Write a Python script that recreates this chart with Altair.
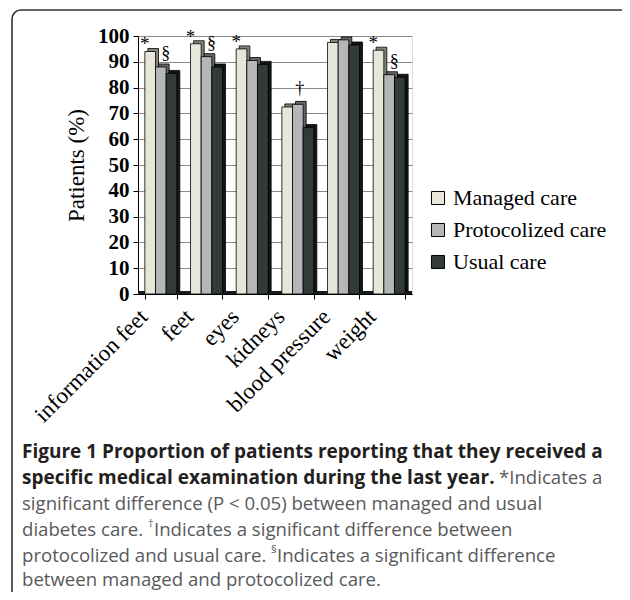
import altair as alt
import pandas as pd

# ---------------- data ----------------
categories = ["information feet", "feet", "eyes", "kidneys", "blood pressure", "weight"]
series = ["Managed care", "Protocolized care", "Usual care"]
managed = [94, 97, 95, 72.5, 97.5, 94.5]
protocolized = [88, 92, 90.5, 73.5, 98.5, 85]
usual = [85.5, 88, 89, 64.5, 96.5, 84]

# significance markers: category -> bar they sit over
star_cats = ["information feet", "feet", "eyes", "weight"]      # * managed vs usual
dagger_cats = ["kidneys"]                                        # † protocolized vs usual
section_cats = ["information feet", "feet", "weight"]            # § managed vs protocolized

# ---------------- styles ----------------
front_colors = ["#e8e6d8", "#b4b6b7", "#333a3a"]
side_colors = ["#858479", "#626465", "#121515"]
SERIF = "Liberation Serif"
SANS = "Open Sans"

rows = []
for s, vals, sc in zip(series, [managed, protocolized, usual], side_colors):
    for c, v in zip(categories, vals):
        rows.append({"category": c, "series": s, "value": v, "shade": sc})
df = pd.DataFrame(rows)

val_lookup = {(r["category"], r["series"]): r["value"] for r in rows}
ann_rows = []
for c in star_cats:
    ann_rows.append({"category": c, "series": "Managed care", "value": val_lookup[(c, "Managed care")], "sym": "*"})
for c in section_cats:
    ann_rows.append({"category": c, "series": "Protocolized care", "value": val_lookup[(c, "Protocolized care")], "sym": "§"})
for c in dagger_cats:
    ann_rows.append({"category": c, "series": "Protocolized care", "value": val_lookup[(c, "Protocolized care")], "sym": "†"})
ann = pd.DataFrame(ann_rows)

W, H = 274, 258
step = W / 6.0
bw = step * 0.7

x_enc = alt.X(
    "category:N",
    sort=categories,
    scale=alt.Scale(domain=categories, paddingInner=0.3, paddingOuter=0.15),
    axis=alt.Axis(
        title=None, labelAngle=315, labelAlign="right", labelBaseline="top",
        labelFont=SERIF, labelFontSize=23, labelColor="black", labelOffset=-25,
        labelPadding=6, tickBand="extent", tickColor="black", tickSize=5,
        domainColor="black", grid=False,
    ),
)
y_enc = alt.Y(
    "value:Q",
    scale=alt.Scale(domain=[0, 100], nice=False),
    axis=alt.Axis(
        values=list(range(0, 101, 10)), title="Patients (%)", grid=True,
        gridColor="#8a8a8a", gridWidth=1, labelFont=SERIF, labelFontSize=21,
        labelFontWeight="bold", labelColor="black", labelPadding=4,
        tickColor="black", tickSize=5, domainColor="black",
        titleFont=SERIF, titleFontSize=23, titleFontWeight="normal",
        titleColor="black", titlePadding=9,
    ),
)

def xoff(rng):
    return alt.XOffset("series:N", sort=series, scale=alt.Scale(domain=series, range=rng, paddingInner=0, paddingOuter=0))

base = alt.Chart(df)

floor = alt.Chart(alt.Data(values=[{}])).mark_rule(color="#1a1a1a", strokeWidth=3).encode(
    x=alt.value(0), x2=alt.value(W), y=alt.value(H - 1.5)
)

shadow = base.mark_bar(stroke="black", strokeWidth=0.8, yOffset=-3, y2Offset=-3).encode(
    x=x_enc, y=y_enc, xOffset=xoff([3, bw + 3]),
    color=alt.Color("shade:N", scale=None),
)

front = base.mark_bar(stroke="black", strokeWidth=0.8).encode(
    x=x_enc, y=y_enc, xOffset=xoff([0, bw]),
    color=alt.Color(
        "series:N",
        sort=series,
        scale=alt.Scale(domain=series, range=front_colors),
        legend=alt.Legend(
            title=None, orient="none", legendX=289, legendY=151,
            symbolType="square", symbolSize=170, symbolStrokeColor="black",
            symbolStrokeWidth=1, labelFont=SERIF, labelFontSize=22,
            labelColor="black", rowPadding=10, labelOffset=4,
        ),
    ),
)

def ann_layer(sym, dx, dy, size):
    return alt.Chart(ann[ann["sym"] == sym]).mark_text(
        font=SERIF, fontSize=size, color="black", baseline="alphabetic", dx=dx, dy=dy
    ).encode(x=x_enc, y=y_enc, xOffset=xoff([0, bw]), text="sym:N")

stars = ann_layer("*", 0, -1, 19)
sections = ann_layer("§", 5, -8, 18)
daggers = ann_layer("†", 2, -10, 18)

# ---------------- figure frame & caption ----------------
OX, OY = 138, 36   # page position of plot origin (for frame/caption placement)

def px(x):
    return x - OX

def py(y):
    return y - OY

frame = alt.Chart(alt.Data(values=[{}])).mark_rect(
    fillOpacity=0, stroke="#333333", strokeWidth=1.6, cornerRadius=9
).encode(x=alt.value(px(12)), x2=alt.value(px(660)), y=alt.value(py(10)), y2=alt.value(py(640)))

def cap(text, x, y, bold=False, size=18.6, dy=0):
    return alt.Chart(alt.Data(values=[{}])).mark_text(
        text=text, font=SANS, fontSize=size, fontWeight="bold" if bold else "normal",
        color="#231f20" if bold else "#58595b", align="left", baseline="middle", dy=dy,
    ).encode(x=alt.value(px(x)), y=alt.value(py(y)))

L = 22
B = 19
lines_y = [452, 478, 504, 530, 556, 580]
caption = [
    cap("Figure 1 Proportion of patients reporting that they received a", L, lines_y[0], bold=True, size=B),
    cap("specific medical examination during the last year.", L, lines_y[1], bold=True, size=B),
    cap("*Indicates a", 499, lines_y[1]),
    cap("significant difference (P < 0.05) between managed and usual", L, lines_y[2]),
    cap("diabetes care.", L, lines_y[3]),
    cap("†", 148, lines_y[3], size=11, dy=-6),
    cap("Indicates a significant difference between", 154, lines_y[3]),
    cap("protocolized and usual care.", L, lines_y[4]),
    cap("§", 271, lines_y[4], size=11, dy=-6),
    cap("Indicates a significant difference", 277, lines_y[4]),
    cap("between managed and protocolized care.", L, lines_y[5]),
]

chart = alt.layer(
    frame, floor, shadow, front, stars, sections, daggers, *caption
).resolve_scale(xOffset="independent").properties(
    width=W, height=H,
    autosize=alt.AutoSizeParams(type="none"),
    padding={"left": OX - 8, "top": OY - 8, "right": 614 - (OX - 8) - W, "bottom": 584 - (OY - 8) - H},
).configure_view(stroke="black", strokeWidth=1).configure(background="white")

chart.save("out.html", embed_options={"renderer": "svg", "actions": False})
